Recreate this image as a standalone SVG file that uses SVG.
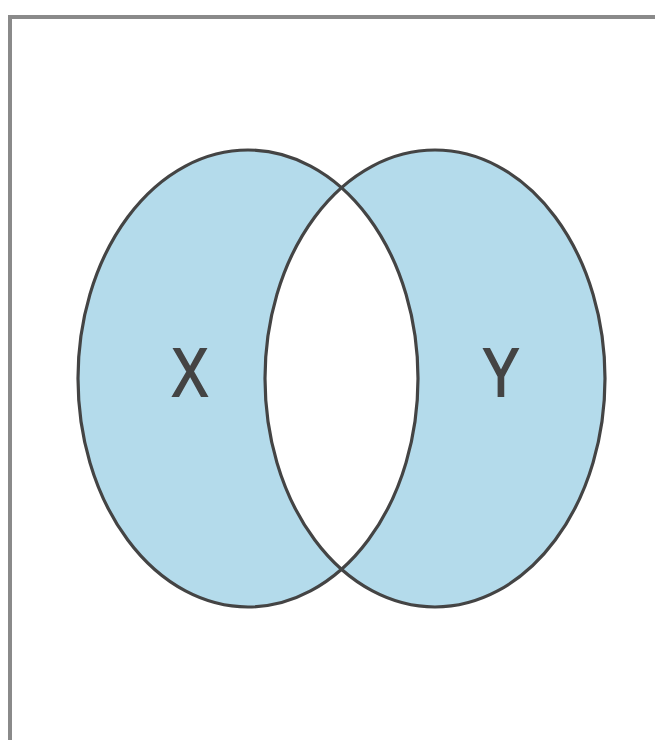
<svg xmlns="http://www.w3.org/2000/svg" width="655" height="740" viewBox="0 0 655 740">
<style>
.set{fill:#b4dbeb}
.edge{fill:none;stroke:#444;stroke-width:3.2}
.lbl{font-family:"Liberation Sans",Arial,sans-serif;font-size:70px;fill:#444;stroke:#444;stroke-width:2;text-anchor:middle}
</style>
<defs>
<clipPath id="clipL"><ellipse cx="248" cy="378.5" rx="170" ry="228.5"/></clipPath>
</defs>
<rect width="655" height="740" fill="#fff"/>
<path d="M10,740 V17 H655" fill="none" stroke="#8a8a8a" stroke-width="4"/>
<g id="setX"><ellipse class="set" cx="248" cy="378.5" rx="170" ry="228.5"/></g>
<g id="setY"><ellipse class="set" cx="435" cy="378.5" rx="170" ry="228.5"/></g>
<g id="intersection"><ellipse cx="435" cy="378.5" rx="170" ry="228.5" fill="#fff" clip-path="url(#clipL)"/></g>
<g id="outlines">
<ellipse class="edge" cx="248" cy="378.5" rx="170" ry="228.5"/>
<ellipse class="edge" cx="435" cy="378.5" rx="170" ry="228.5"/>
</g>
<g id="labelX"><text class="lbl" transform="translate(190,396) scale(0.78,0.98)">X</text></g>
<g id="labelY"><text class="lbl" transform="translate(501,396) scale(0.78,0.98)">Y</text></g>
</svg>
